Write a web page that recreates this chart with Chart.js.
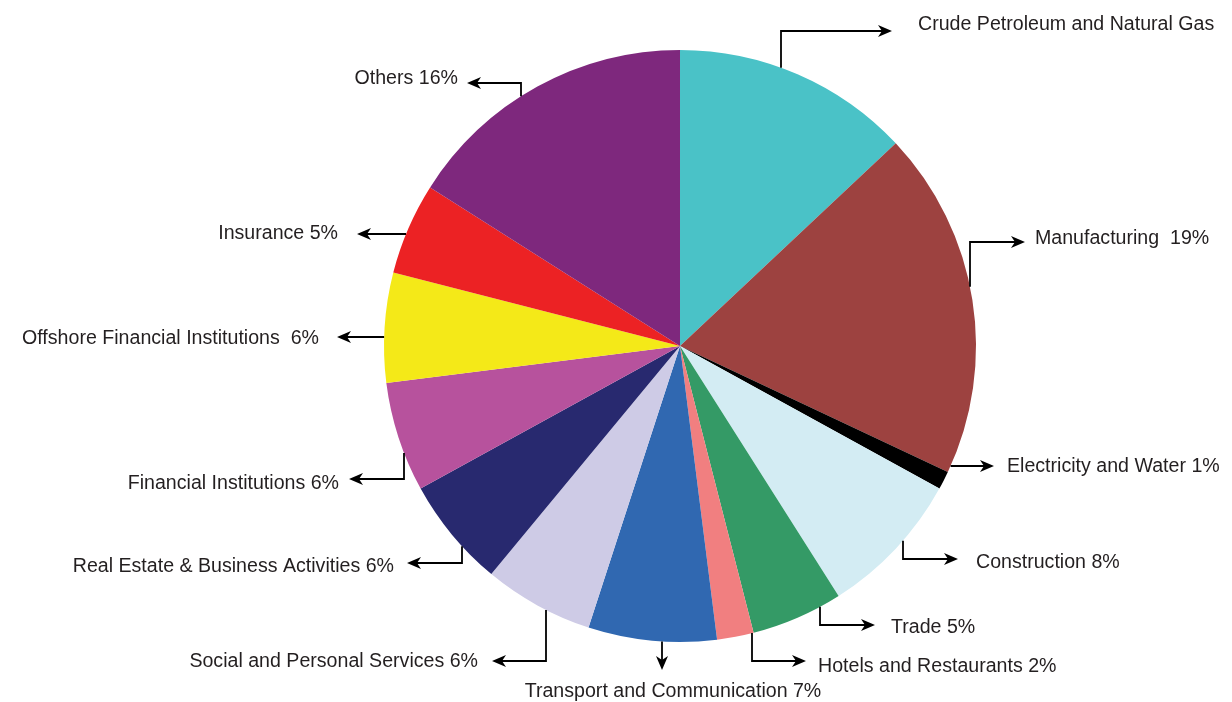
<!DOCTYPE html>
<html>
<head>
<meta charset="utf-8">
<script src="https://cdn.jsdelivr.net/npm/chart.js@4.4.1/dist/chart.umd.min.js"></script>
<style>
  html, body { margin: 0; padding: 0; background: #ffffff; }
  #wrap { width: 1232px; height: 702px; position: relative; }
</style>
</head>
<body>
<div id="wrap"><canvas id="pie" width="1232" height="702"></canvas></div>
<script>
// Sector names, clockwise from twelve o'clock
const sectors = [
  'Crude Petroleum and Natural Gas',
  'Manufacturing',
  'Electricity and Water',
  'Construction',
  'Trade',
  'Hotels and Restaurants',
  'Transport and Communication',
  'Social and Personal Services',
  'Real Estate & Business Activities',
  'Financial Institutions',
  'Offshore Financial Institutions',
  'Insurance',
  'Others'
];

// Share of the total, in percent
const shares = [13, 19, 1, 8, 5, 2, 7, 6, 6, 6, 6, 5, 16];

// Whether the callout prints the percentage next to the name
const showShare = [false, true, true, true, true, true, true, true, true, true, true, true, true];

const sliceColors = [
  '#4ac2c7', '#9d4240', '#000000', '#d3ecf3', '#349a66', '#f17f80', '#3068b1',
  '#cecbe6', '#28296f', '#b7529d', '#f4e918', '#ec2224', '#7e287d'
];

function calloutText(i) {
  if (!showShare[i]) return sectors[i];
  const gap = (i === 1 || i === 10) ? '  ' : ' ';
  return sectors[i] + gap + shares[i] + '%';
}

// Connector routing, in pixels relative to the pie centre.
// leave 'v': the line leaves the rim vertically at x = at (side -1 top, +1 bottom)
// leave 'h': the line leaves the rim horizontally at y = at (side -1 left, +1 right)
const routes = [
  { leave: 'v', at: 101,  side: -1, pts: [[101, -315], [212, -315]], text: [238, -321], align: 'left' },
  { leave: 'v', at: 290,  side: -1, pts: [[290, -104], [345, -104]], text: [355, -107], align: 'left' },
  { leave: 'h', at: 120,  side: 1,  pts: [[314, 120]],               text: [327, 121],  align: 'left' },
  { leave: 'v', at: 223,  side: 1,  pts: [[223, 213], [278, 213]],   text: [296, 217],  align: 'left' },
  { leave: 'v', at: 140,  side: 1,  pts: [[140, 279], [195, 279]],   text: [211, 282],  align: 'left' },
  { leave: 'v', at: 72,   side: 1,  pts: [[72, 315], [126, 315]],    text: [138, 321],  align: 'left' },
  { leave: 'v', at: -18,  side: 1,  pts: [[-18, 324]],               text: [-7, 346],   align: 'center' },
  { leave: 'v', at: -134, side: 1,  pts: [[-134, 315], [-188, 315]], text: [-202, 316], align: 'right' },
  { leave: 'v', at: -218, side: 1,  pts: [[-218, 217], [-273, 217]], text: [-286, 221], align: 'right' },
  { leave: 'v', at: -276, side: 1,  pts: [[-276, 133], [-331, 133]], text: [-341, 138], align: 'right' },
  { leave: 'h', at: -9,   side: -1, pts: [[-343, -9]],               text: [-361, -7],  align: 'right' },
  { leave: 'h', at: -112, side: -1, pts: [[-323, -112]],             text: [-342, -112], align: 'right' },
  { leave: 'v', at: -159, side: -1, pts: [[-159, -263], [-213, -263]], text: [-222, -267], align: 'right' }
];

function drawArrowHead(ctx, x, y, ang) {
  const len = 14, half = 6, notch = 4;
  ctx.save();
  ctx.translate(x, y);
  ctx.rotate(ang);
  ctx.beginPath();
  ctx.moveTo(0, 0);
  ctx.lineTo(-len, -half);
  ctx.lineTo(-len + notch, 0);
  ctx.lineTo(-len, half);
  ctx.closePath();
  ctx.fill();
  ctx.restore();
}

const calloutPlugin = {
  id: 'callouts',
  afterDatasetsDraw(chart, args, opts) {
    const ctx = chart.ctx;
    const meta = chart.getDatasetMeta(0);
    ctx.save();
    ctx.strokeStyle = opts.lineColor;
    ctx.fillStyle = opts.lineColor;
    ctx.lineWidth = opts.lineWidth;
    ctx.lineJoin = 'miter';
    ctx.font = opts.font;
    ctx.textBaseline = 'middle';
    meta.data.forEach((arc, i) => {
      const r = opts.routes[i];
      if (!r) return;
      const { x: cx, y: cy, outerRadius: R } = arc.getProps(['x', 'y', 'outerRadius'], true);
      let sx, sy;
      if (r.leave === 'v') {
        sx = cx + r.at;
        sy = cy + r.side * Math.sqrt(Math.max(R * R - r.at * r.at, 0));
      } else {
        sy = cy + r.at;
        sx = cx + r.side * Math.sqrt(Math.max(R * R - r.at * r.at, 0));
      }
      const pts = [[sx, sy]].concat(r.pts.map(p => [cx + p[0], cy + p[1]]));
      const n = pts.length;
      const [tx, ty] = pts[n - 1];
      const [px, py] = pts[n - 2];
      const ang = Math.atan2(ty - py, tx - px);
      ctx.beginPath();
      ctx.moveTo(pts[0][0], pts[0][1]);
      for (let k = 1; k < n - 1; k++) ctx.lineTo(pts[k][0], pts[k][1]);
      ctx.lineTo(tx - Math.cos(ang) * 9, ty - Math.sin(ang) * 9);
      ctx.stroke();
      drawArrowHead(ctx, tx, ty, ang);
      ctx.fillStyle = opts.textColor;
      ctx.textAlign = r.align;
      ctx.fillText(calloutText(i), cx + r.text[0], cy + r.text[1]);
      ctx.fillStyle = opts.lineColor;
    });
    ctx.restore();
  }
};

new Chart(document.getElementById('pie'), {
  type: 'pie',
  data: {
    labels: sectors,
    datasets: [{
      data: shares,
      backgroundColor: sliceColors,
      borderWidth: 0,
      hoverOffset: 0
    }]
  },
  options: {
    responsive: false,
    animation: false,
    devicePixelRatio: 1,
    layout: { padding: { left: 384, right: 256, top: 50, bottom: 60 } },
    plugins: {
      legend: { display: false },
      tooltip: { enabled: false },
      callouts: {
        routes: routes,
        lineColor: '#000000',
        textColor: '#231f20',
        lineWidth: 1.8,
        font: '19.6px "Liberation Sans", Arial, sans-serif'
      }
    }
  },
  plugins: [calloutPlugin]
});
</script>
</body>
</html>
